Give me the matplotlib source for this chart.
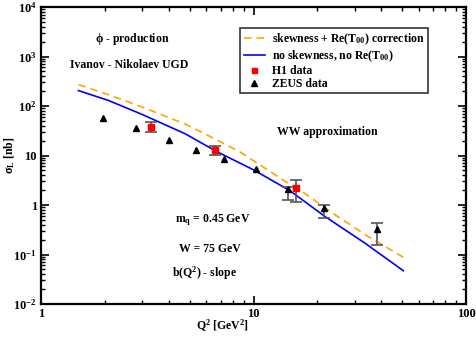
import matplotlib
matplotlib.use("Agg")
import matplotlib.pyplot as plt
from matplotlib.ticker import LogLocator, FixedLocator, FixedFormatter, NullFormatter

plt.rcParams['font.family'] = ['Liberation Serif', 'DejaVu Serif']
plt.rcParams['font.weight'] = 'bold'
plt.rcParams['mathtext.fontset'] = 'custom'
plt.rcParams['mathtext.rm'] = 'Liberation Serif:bold'
plt.rcParams['mathtext.it'] = 'Liberation Serif:bold'
plt.rcParams['mathtext.bf'] = 'Liberation Serif:bold'

# theory curves
skew_q2 = [1.5, 2.07, 2.98, 4.76, 5.80, 8.64, 14.85, 16.3, 24.2, 34.7, 50.7]
skew_curve = [271, 170, 96, 43.4, 28.5, 11.8, 2.6, 2.1, 0.634, 0.230, 0.088]
noskew_q2 = [1.5, 2.07, 2.98, 4.76, 6.71, 9.98, 14.85, 21.7, 33.5, 50.7]
noskew_curve = [205, 130, 68, 27.6, 12.0, 5.16, 1.94, 0.585, 0.169, 0.047]

# H1 data
h1_q2 = [3.29, 6.59, 15.85]
h1_sig = [37.8, 12.7, 2.16]
h1_lo = [30.3, 10.4, 1.16]
h1_hi = [47.6, 15.8, 3.19]

# ZEUS data
zeus_q2 = [1.95, 2.79, 4.02, 5.36, 7.26, 10.3, 14.5, 21.4, 38.1]
zeus_sig = [57.5, 36, 21, 13.1, 8.6, 5.4, 2.06, 0.88, 0.33]
zeus_lo = [57.5, 36, 21, 13.1, 8.6, 5.4, 1.26, 0.55, 0.154]
zeus_hi = [57.5, 36, 21, 13.1, 8.6, 5.4, 2.33, 1.0, 0.44]

FS = 8.5

fig = plt.figure(figsize=(4.76, 3.38), dpi=100)
ax = fig.add_axes([41/476, 1-304/338, (466-41)/476, (304-7)/338])

ax.plot(skew_q2, skew_curve, color='orange', ls=(0, (4.5, 3)), lw=1.2,
        label=r'skewness + Re(T$_{00}$) correction')
ax.plot(noskew_q2, noskew_curve, color='blue', lw=1.2,
        label=r'no skewness, no Re(T$_{00}$)')

h1_err = [[s - l for s, l in zip(h1_sig, h1_lo)], [h - s for s, h in zip(h1_sig, h1_hi)]]
ze = [i for i in range(len(zeus_q2)) if zeus_hi[i] != zeus_lo[i]]
zeus_err = [[zeus_sig[i] - zeus_lo[i] for i in ze], [zeus_hi[i] - zeus_sig[i] for i in ze]]

ax.errorbar([zeus_q2[i] for i in ze], [zeus_sig[i] for i in ze], yerr=zeus_err, fmt='none',
            ecolor='#555555', elinewidth=1.2, capsize=4, capthick=1.2)
ax.errorbar(h1_q2, h1_sig, yerr=h1_err, fmt='none', ecolor='#555555', elinewidth=1.2, capsize=4, capthick=1.2)
ax.plot(h1_q2, h1_sig, 's', color='red', ms=4.5, ls='none', label='H1 data')
ax.plot(zeus_q2, zeus_sig, '^', color='black', ms=4.8, ls='none', label='ZEUS data')

ax.set_xscale('log')
ax.set_yscale('log')
ax.set_xlim(1, 100)
ax.set_ylim(1e-2, 1e4)

ax.xaxis.set_major_locator(FixedLocator([1, 10, 100]))
ax.xaxis.set_major_formatter(FixedFormatter(['1', '10', '100']))
ax.xaxis.set_minor_locator(LogLocator(base=10, subs=range(2, 10)))
ax.xaxis.set_minor_formatter(NullFormatter())
yt = [1e-2, 1e-1, 1, 10, 1e2, 1e3, 1e4]
ax.yaxis.set_major_locator(FixedLocator(yt))
ax.yaxis.set_major_formatter(FixedFormatter([r'10$^{-2}$', r'10$^{-1}$', '1', '10', r'10$^{2}$', r'10$^{3}$', r'10$^{4}$']))
ax.yaxis.set_minor_locator(LogLocator(base=10, subs=range(2, 10)))
ax.yaxis.set_minor_formatter(NullFormatter())

ax.tick_params(which='both', direction='in', top=True, right=True, labelsize=FS + 0.5)
ax.tick_params(which='major', length=6, width=1.2, pad=3)
ax.tick_params(which='minor', length=3, width=1.0)
for sp in ax.spines.values():
    sp.set_linewidth(1.6)

ax.set_xlabel(r'Q$^2$ [GeV$^2$]', fontsize=FS, fontweight='bold')
ax.set_ylabel(r'$\sigma_L$ [nb]', fontsize=FS, fontweight='bold')
ax.xaxis.set_label_coords((222-41)/425, -(318-304)/297)
ax.yaxis.set_label_coords(-(41-17)/425, (304-155)/297)

kw = dict(transform=fig.transFigure, fontsize=FS, fontweight='bold')
fig.text(132/476, 1-39/338, r'$\phi$ - production', ha='center', va='center', **kw)
fig.text(129/476, 1-65/338, 'Ivanov - Nikolaev UGD', ha='center', va='center', **kw)
fig.text(327/476, 1-132/338, 'WW approximation', ha='center', va='center', **kw)
fig.text(175/476, 1-220/338, r'm$_q$ = 0.45 GeV', ha='left', va='center', **kw)
fig.text(179/476, 1-249/338, 'W = 75 GeV', ha='left', va='center', **kw)
fig.text(172/476, 1-273/338, r'b(Q$^2$) - slope', ha='left', va='center', **kw)

leg = ax.legend(loc='upper left', bbox_to_anchor=((240-41)/425, 1-(28-7)/297),
                fontsize=FS, frameon=True, fancybox=False, edgecolor='black',
                handlelength=1.8, handletextpad=0.6, borderpad=0.3, labelspacing=0.1,
                markerscale=0.8, borderaxespad=0)
leg.get_frame().set_linewidth(1.2)
for t in leg.get_texts():
    t.set_fontweight('bold')

fig.savefig('out.png', dpi=100)
